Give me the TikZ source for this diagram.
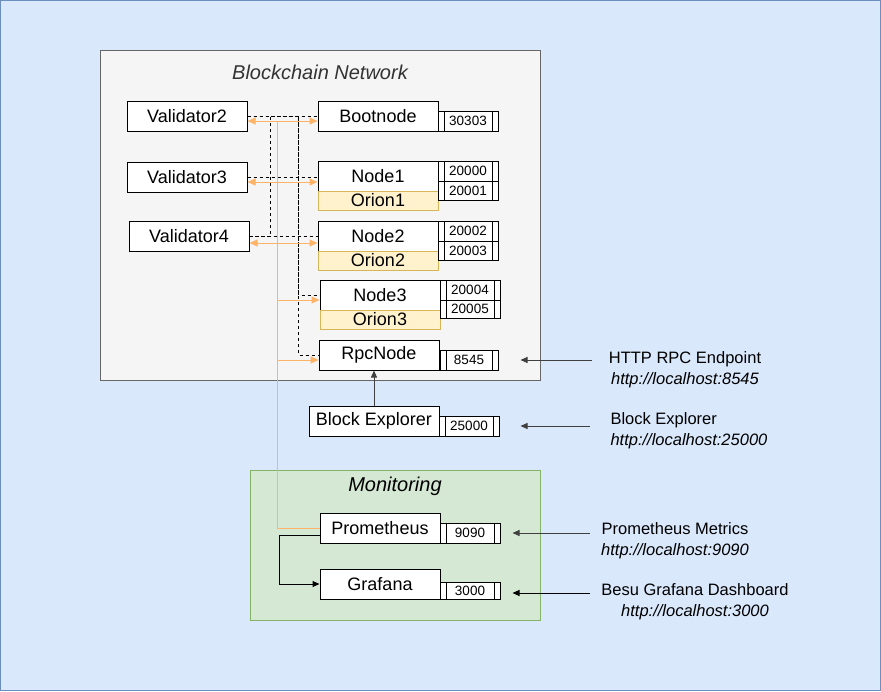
\documentclass[tikz,border=0pt]{standalone}
\usepackage{fontspec}
\setmainfont{Liberation Sans}
\usetikzlibrary{arrows.meta}

\definecolor{pagefill}{HTML}{DAE8FC}
\definecolor{pageline}{HTML}{6C8EBF}
\definecolor{netfill}{HTML}{F5F5F5}
\definecolor{netline}{HTML}{666666}
\definecolor{monfill}{HTML}{D5E8D4}
\definecolor{monline}{HTML}{82B366}
\definecolor{orionfill}{HTML}{FFF2CC}
\definecolor{orionline}{HTML}{D6B656}
\definecolor{scrapecol}{HTML}{FFB366}

\tikzset{
  box/.style={draw, fill=white, inner sep=0pt, minimum width=120, minimum height=30,
    font=\fontsize{18}{21}\selectfont},
  orion/.style={box, draw=orionline, fill=orionfill, minimum height=19},
  port/.style={draw, fill=white, inner sep=0pt, minimum width=60, minimum height=20,
    font=\fontsize{13.5}{15}\selectfont,
    path picture={\draw[line width=1pt]
      ([xshift=6pt]path picture bounding box.north west) -- ([xshift=6pt]path picture bounding box.south west)
      ([xshift=-6pt]path picture bounding box.north east) -- ([xshift=-6pt]path picture bounding box.south east);}},
  grouptitle/.style={font=\fontsize{20}{24}\selectfont\itshape},
  note/.style={inner sep=0pt, align=center, font=\fontsize{16.5}{21}\selectfont},
  peer/.style={dash pattern=on 3pt off 3pt},
  scrape/.style={draw=scrapecol},
  tip/.tip={Triangle[length=7pt,width=6pt]},
  otip/.tip={Triangle[length=8pt,width=7pt]},
  expose/.style={-tip, draw=black!75}
}

\begin{document}
\begin{tikzpicture}[x=1pt, y=-1pt, line width=1pt]

  % Definitions
  \def\busa{23}   % Offset of first dashed bus from Validator2
  \def\busb{51}   % Offset of second dashed bus from Validator2
  \def\tapx{277}  % x of the scrape line

  \useasboundingbox (0,0) rectangle (881,691);
  \draw[pageline, fill=pagefill] (0.5,0.5) rectangle (880.5,690.5);

  % Groups
  \draw[netline, fill=netfill] (100.5,50.5) rectangle (540.5,380.5);
  \node[grouptitle, text=black!80] (netTitle) at (320,72) {Blockchain Network};
  \draw[monline, fill=monfill] (250.5,470.5) rectangle (540.5,620.5);
  \node[grouptitle] (monTitle) at (395,486) {Monitoring};

  % Validators
  \node[box] (v2) at (187,116) {Validator2};
  \node[box] (v3) at (187,177) {Validator3};
  \node[box] (v4) at (189,236) {Validator4};

  % Nodes with their ports
  \node[box] (boot) at (378,116) {Bootnode};
  \node[port] (p30303) at (468,121) {30303};

  \node[box] (n1) at (378,176) {Node1};
  \node[orion] (o1) at (378,200.5) {Orion1};
  \node[port] (p20000) at (468,171) {20000};
  \node[port, minimum height=19] (p20001) at (468,190.5) {20001};

  \node[box] (n2) at (378,236) {Node2};
  \node[orion] (o2) at (378,260.5) {Orion2};
  \node[port] (p20002) at (468,231) {20002};
  \node[port, minimum height=19] (p20003) at (468,250.5) {20003};

  \node[box] (n3) at (380,295) {Node3};
  \node[orion] (o3) at (380,319.5) {Orion3};
  \node[port] (p20004) at (470,290) {20004};
  \node[port, minimum height=18] (p20005) at (470,309) {20005};

  \node[box] (rpc) at (379,355) {RpcNode};
  \node[port, minimum width=58] (p8545) at (469,360) {8545};

  \node[box, minimum width=130] (bx) at (374,421) {Block Explorer};
  \node[port] (p25000) at (469,426) {25000};

  \node[box] (prom) at (380,528) {Prometheus};
  \node[port] (p9090) at (470,533) {9090};
  \node[box] (graf) at (380,584) {Grafana};
  \node[port, minimum height=17] (p3000) at (470,590.5) {3000};

  % Peer links
  \draw[peer] (v2.east) -- (boot.west);
  \draw[peer] (v3.east) -- (v3.east -| n1.west);
  \draw[peer] (v4.east) -- (n2.west);
  \draw[peer] (v2.east) -- ([xshift=\busa pt]v2.east) |- (v4.east);
  \draw[peer] ([xshift=\busa pt]v2.east) -- ([xshift=\busb pt]v2.east) |- (n3.west);
  \draw[peer] ([xshift=\busb pt]v2.east) |- (rpc.west);

  % Scrape links
  \coordinate (tap) at (\tapx,121);
  \draw[scrape] (prom.west) -| (tap);
  \draw[scrape, otip-otip] ([yshift=-5pt]v2.east) -- ([yshift=-5pt]boot.west);
  \draw[scrape, otip-otip] ([yshift=-5pt]v3.east) -- ([yshift=-5pt]v3.east -| n1.west);
  \draw[scrape, otip-otip] ([yshift=-7pt]v4.east) -- ([yshift=-7pt]n2.west);
  \draw[scrape, -otip] ([yshift=-5pt]n3.west -| tap) -- ([yshift=-5pt]n3.west);
  \draw[scrape, -otip] ([yshift=-5pt]rpc.west -| tap) -- ([yshift=-5pt]rpc.west);

  \draw[expose] (bx.north) -- (bx.north |- rpc.south);
  \draw[-tip] ([yshift=-7pt]prom.west) -- ++(-40,0) |- (graf.west);

  % Endpoints
  \node[note] (rpcNote) at (685,370) {HTTP RPC Endpoint\\\textit{http://localhost:8545}};
  \node[note, align=left, anchor=west] (bxNote) at (610,431) {Block Explorer\\\textit{http://localhost:25000}};
  \node[note] (promNote) at (675,541) {Prometheus Metrics\\\textit{http://localhost:9090}};
  \node[note] (grafNote) at (695,602) {Besu Grafana Dashboard\\\textit{http://localhost:3000}};

  \coordinate (rpcOut) at (592,360);
  \coordinate (bxOut) at (590,426);
  \coordinate (promOut) at (590,533);
  \coordinate (grafOut) at (590,593);
  \draw[expose] (rpcOut) -- ([xshift=22pt]rpcOut -| p8545.east);
  \draw[expose] (bxOut) -- ([xshift=21pt]bxOut -| p25000.east);
  \draw[expose] (promOut) -- ([xshift=12pt]promOut -| p9090.east);
  \draw[-tip] (grafOut) -- ([xshift=12pt]grafOut -| p3000.east);

\end{tikzpicture}
\end{document}
